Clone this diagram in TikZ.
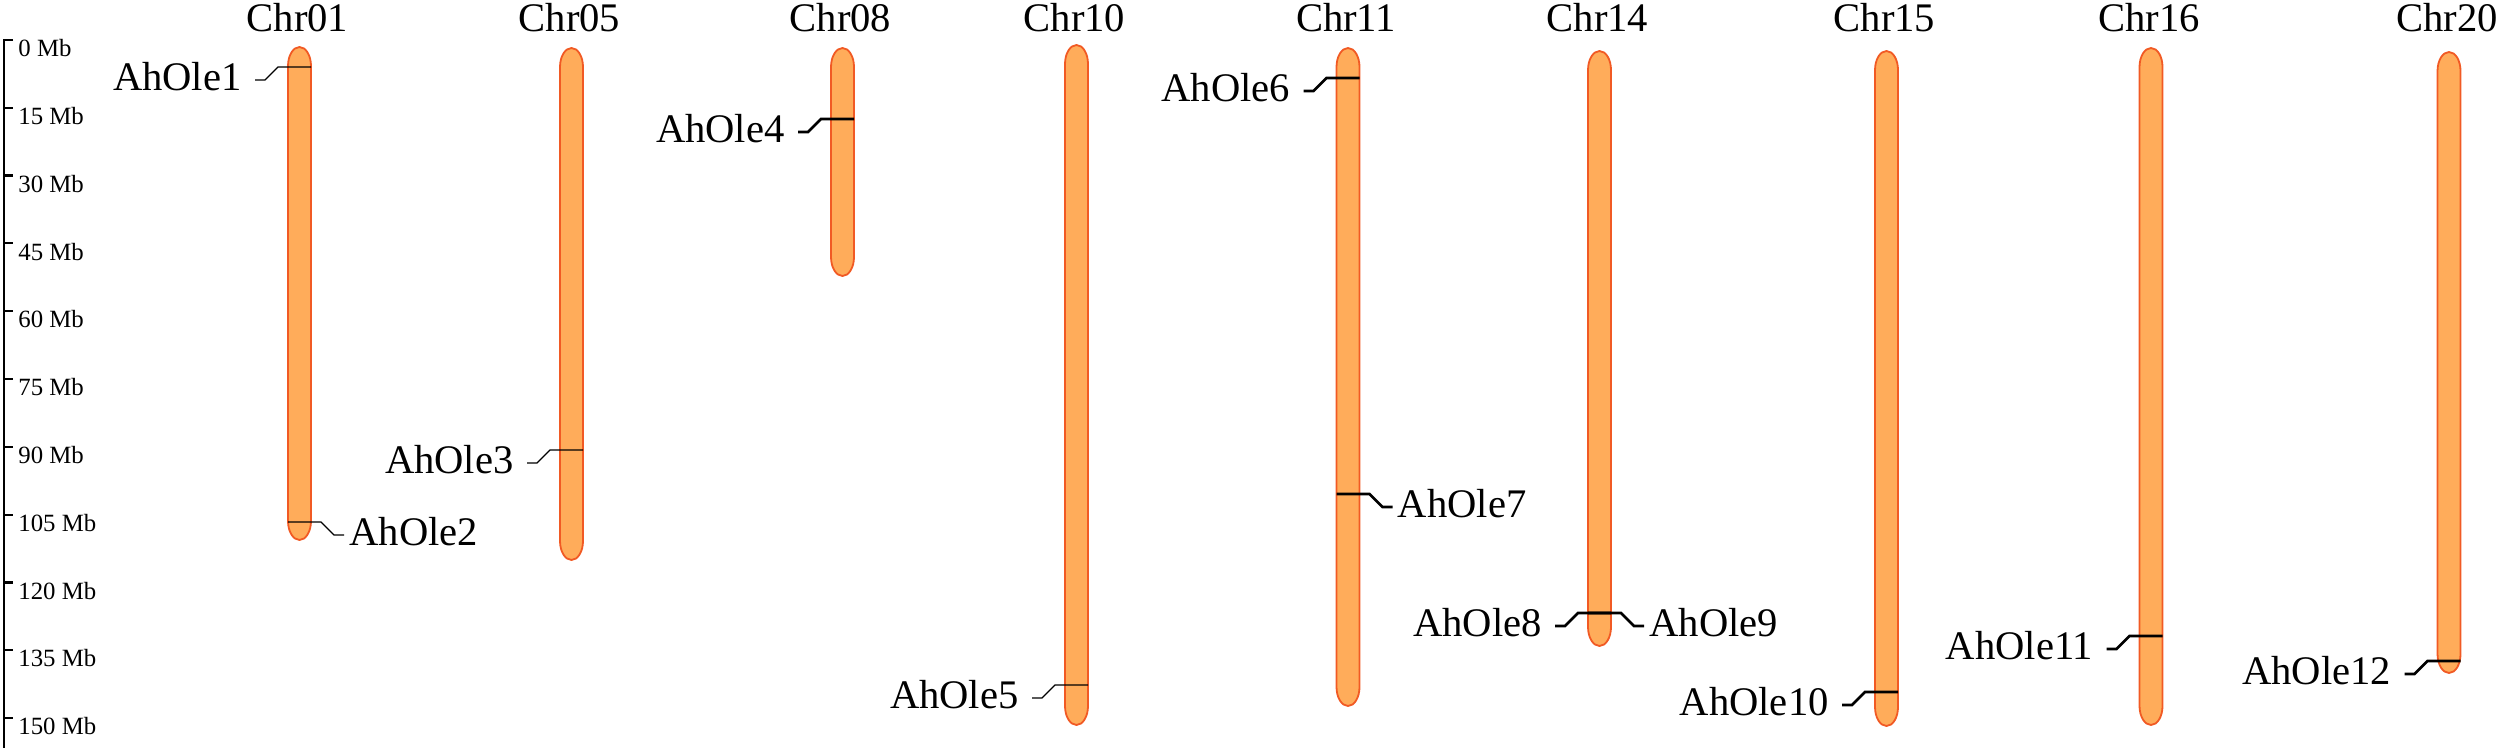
\documentclass[tikz,border=0pt]{standalone}
\usepackage{fontspec}
\setmainfont{Liberation Serif}
\definecolor{chrfill}{HTML}{FFAC5A}
\definecolor{chrdraw}{HTML}{F15A24}
\tikzset{
  chr/.style={draw=chrdraw, fill=chrfill, line width=0.9pt},
  chrlab/.style={inner sep=0pt, anchor=base, font=\fontsize{20.3}{23}\selectfont},
  lab/.style={inner sep=0pt, font=\fontsize{20.3}{23}\selectfont},
  ticklab/.style={inner sep=0pt, anchor=north west, font=\fontsize{12.4}{14}\selectfont},
  axisline/.style={line width=1.1pt, black},
  thinlink/.style={line width=0.6pt, black},
  thicklink/.style={line width=1.3pt, black},
}
% chromosome: name, centre x, top y, bottom y (pixels, y downwards)
\newcommand\drawchr[4]{%
  \draw[chr] ({#2-11.5},{-#3-19}) arc[start angle=180,end angle=0,x radius=5.75pt,y radius=9.5pt]
    -- ({#2+11.5},{-#4+19}) arc[start angle=0,end angle=-180,x radius=5.75pt,y radius=9.5pt] -- cycle;
  \node[chrlab] (#1) at ({#2-2},-32) {#1};
}
% gene with label on the left: name, centre x, y, style
\newcommand\geneL[4]{%
  \coordinate (#1g) at ({#2+11.5},{-#3});
  \coordinate (#1e) at ({#2-11.5-33},{-#3-13});
  \node[lab,anchor=base east] (#1) at ({#2-11.5-46},{-#3-23.5}) {#1};
  \draw[#4] (#1g) -- ++(-33,0) -- ++(-13,-13) -- (#1e);
}
% gene with label on the right
\newcommand\geneR[4]{%
  \coordinate (#1g) at ({#2-11.5},{-#3});
  \coordinate (#1e) at ({#2+11.5+33},{-#3-13});
  \node[lab,anchor=base west] (#1) at ({#2+11.5+38},{-#3-23.5}) {#1};
  \draw[#4] (#1g) -- ++(33,0) -- ++(13,-13) -- (#1e);
}
\begin{document}
\begin{tikzpicture}[x=0.5pt,y=0.5pt]
\useasboundingbox (0,0) rectangle (2500,-748);
% scale axis
\coordinate (axtop) at (4,-40);
\coordinate (axbot) at (4,-748);
\draw[axisline] (13,-40) -- (axtop) -- (axbot);
\foreach \i in {1,...,10}{
  \pgfmathsetmacro\yy{40+67.8*\i}
  \coordinate (tk\i) at (4,-\yy);
  \draw[axisline] (tk\i) -- ++(9,0);
}
\foreach \i in {0,...,10}{
  \pgfmathsetmacro\yy{40+67.8*\i}
  \pgfmathtruncatemacro\mb{15*\i}
  \node[ticklab] (tl\i) at (18,-\yy+1) {\mb\ Mb};
}
% chromosomes
\drawchr{Chr01}{299.5}{47}{540}
\drawchr{Chr05}{571.5}{48}{560}
\drawchr{Chr08}{842.5}{48}{276}
\drawchr{Chr10}{1076.5}{45}{725}
\drawchr{Chr11}{1348}{48}{706}
\drawchr{Chr14}{1599.5}{51}{646}
\drawchr{Chr15}{1886.5}{51}{726}
\drawchr{Chr16}{2151}{48}{725}
\drawchr{Chr20}{2449}{52}{673}
% genes
\geneL{AhOle1}{299.5}{67}{thinlink}
\geneR{AhOle2}{299.5}{522}{thinlink}
\geneL{AhOle3}{571.5}{450}{thinlink}
\geneL{AhOle4}{842.5}{119}{thicklink}
\geneL{AhOle5}{1076.5}{685}{thinlink}
\geneL{AhOle6}{1348}{78}{thicklink}
\geneR{AhOle7}{1348}{494}{thicklink}
\geneL{AhOle8}{1599.5}{613}{thicklink}
\geneR{AhOle9}{1599.5}{613}{thicklink}
\geneL{AhOle10}{1886.5}{692}{thicklink}
\geneL{AhOle11}{2151}{636}{thicklink}
\geneL{AhOle12}{2449}{661}{thicklink}
\end{tikzpicture}
\end{document}
